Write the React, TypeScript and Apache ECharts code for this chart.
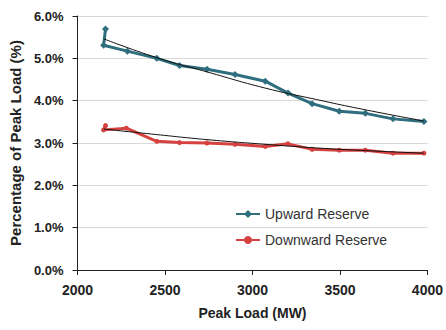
import React, { useEffect, useRef } from "react";
import * as echarts from "echarts";

const upwardLoad = [2160, 2149, 2285, 2453, 2583, 2740, 2900, 3073, 3203, 3341, 3496, 3645, 3803, 3980];
const upwardPct = [5.69, 5.31, 5.17, 5.0, 4.83, 4.74, 4.62, 4.46, 4.18, 3.93, 3.75, 3.7, 3.57, 3.51];

const downwardLoad = [2160, 2149, 2279, 2453, 2583, 2740, 2900, 3073, 3203, 3341, 3496, 3645, 3803, 3980];
const downwardPct = [3.41, 3.31, 3.35, 3.04, 3.01, 3.0, 2.97, 2.92, 2.98, 2.85, 2.83, 2.83, 2.76, 2.76];

const upTrendLoad = [2150, 2450, 2740, 3070, 3340, 3650, 3980];
const upTrendPct = [5.46, 5.02, 4.68, 4.3, 4.05, 3.78, 3.52];

const downTrendLoad = [2150, 2450, 2740, 3070, 3340, 3650, 3980];
const downTrendPct = [3.33, 3.2, 3.08, 2.97, 2.89, 2.82, 2.76];

const seriesNames = ["Upward Reserve", "Downward Reserve"];

const zip = (xs: number[], ys: number[]) => xs.map((x, i) => [x, ys[i]]);

export default function App() {
  const ref = useRef<HTMLDivElement>(null);
  useEffect(() => {
    if (!ref.current) return;
    const chart = echarts.init(ref.current, null, { renderer: "svg" });
    const font = "'Liberation Sans', Arial, sans-serif";
    chart.setOption({
      animation: false,
      backgroundColor: "#ffffff",
      grid: { left: 72, right: 16, top: 16, bottom: 60 },
      legend: {
        data: seriesNames,
        orient: "vertical",
        left: 230,
        top: 202,
        itemWidth: 24,
        itemHeight: 10,
        itemGap: 12,
        textStyle: { fontFamily: font, fontSize: 14, color: "#333333" },
      },
      xAxis: {
        type: "value",
        min: 2000,
        max: 4000,
        interval: 500,
        name: "Peak Load (MW)",
        nameLocation: "middle",
        nameGap: 36,
        nameTextStyle: { fontFamily: font, fontSize: 14, fontWeight: "bold", color: "#222" },
        axisLine: { lineStyle: { color: "#222", width: 1 } },
        axisTick: { show: true, length: 5, lineStyle: { color: "#222" } },
        axisLabel: {
          fontFamily: font,
          fontSize: 14,
          fontWeight: "bold",
          color: "#222",
          margin: 13,
          formatter: (v: number) => String(v),
        },
        splitLine: { show: false },
      },
      yAxis: {
        type: "value",
        min: 0,
        max: 6,
        interval: 1,
        name: "Percentage of Peak Load (%)",
        nameLocation: "middle",
        nameGap: 54,
        nameTextStyle: { fontFamily: font, fontSize: 15, fontWeight: "bold", color: "#222" },
        axisLine: { show: true, lineStyle: { color: "#222", width: 1 } },
        axisTick: { show: true, length: 5, lineStyle: { color: "#222" } },
        axisLabel: {
          fontFamily: font,
          fontSize: 13,
          fontWeight: "bold",
          color: "#222",
          margin: 14,
          formatter: (v: number) => v.toFixed(1) + "%",
        },
        splitLine: { show: true, lineStyle: { color: "#d9d9d9", width: 1 } },
      },
      series: [
        {
          name: seriesNames[0],
          type: "line",
          data: zip(upwardLoad, upwardPct),
          symbol: "diamond",
          symbolSize: 7,
          lineStyle: { color: "#2F6E7E", width: 3 },
          itemStyle: { color: "#2F6E7E" },
          z: 2,
        },
        {
          name: seriesNames[1],
          type: "line",
          data: zip(downwardLoad, downwardPct),
          symbol: "circle",
          symbolSize: 5,
          lineStyle: { color: "#D6423F", width: 3 },
          itemStyle: { color: "#D6423F" },
          z: 2,
        },
        {
          name: "up trend",
          type: "line",
          data: zip(upTrendLoad, upTrendPct),
          smooth: true,
          showSymbol: false,
          symbol: "none",
          lineStyle: { color: "#111", width: 1 },
          z: 3,
          silent: true,
        },
        {
          name: "down trend",
          type: "line",
          data: zip(downTrendLoad, downTrendPct),
          smooth: true,
          showSymbol: false,
          symbol: "none",
          lineStyle: { color: "#111", width: 1 },
          z: 3,
          silent: true,
        },
      ],
    });
    return () => chart.dispose();
  }, []);
  return <div ref={ref} style={{ width: 446, height: 330, position: "absolute", left: 0, top: 0 }} />;
}
